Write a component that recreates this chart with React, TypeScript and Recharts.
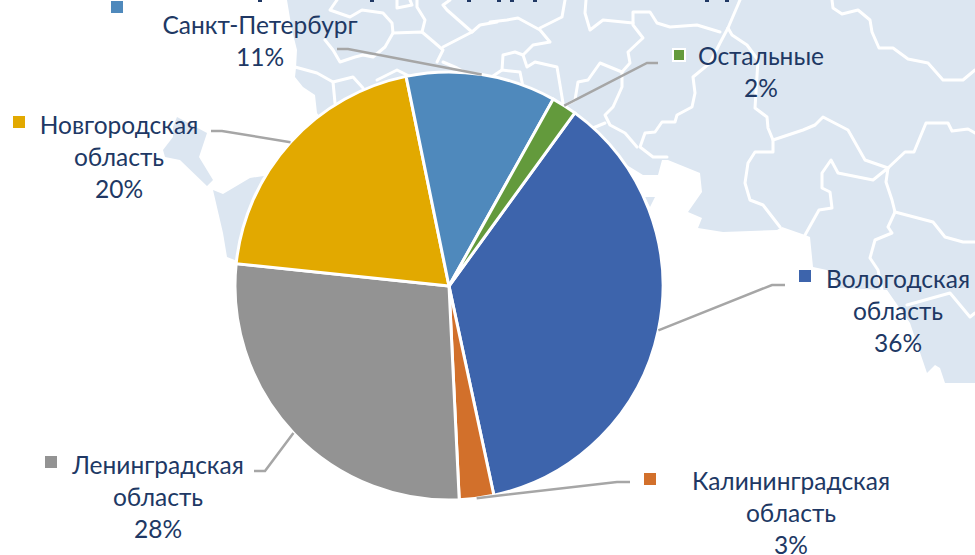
import React from "react";
import { PieChart, Pie, Cell } from "recharts";

// slice order goes clockwise from the top right, as in the reference
const CATEGORIES = [
  ["Вологодская", "область"],
  ["Калининградская", "область"],
  ["Ленинградская", "область"],
  ["Новгородская", "область"],
  ["Санкт-Петербург"],
  ["Остальные"],
];
const SHARES = [36.6, 2.6, 27.4, 20.1, 11.3, 1.9];
const PERCENT_LABELS = ["36%", "3%", "28%", "20%", "11%", "2%"];
const COLORS = ["#3D64AC", "#D2702B", "#939393", "#E2A900", "#4F89BC", "#639A3C"];

// label placement: text centre, first baseline, legend square, leader elbow
const LABEL_POS = [
  { x: 898, y: 288, sx: 799, sy: 270, ex: 772, ey: 285, end: 785 },
  { x: 791, y: 490, sx: 644, sy: 473, ex: 617, ey: 482, end: 630 },
  { x: 158, y: 474, sx: 45, sy: 456, ex: 265, ey: 471, end: 254 },
  { x: 119, y: 134, sx: 13, sy: 116, ex: 222, ey: 131, end: 211 },
  { x: 260, y: 34, sx: 111, sy: 1, ex: 348, ey: 49, end: 337 },
  { x: 761, y: 65, sx: 673, sy: 49, ex: 647, ey: 63, end: 658 },
];

const TEXT_COLOR = "#203864";
const LINE_HEIGHT = 32;
const RAD = Math.PI / 180;

// background map, drawn by hand behind the pie
const LAND = [
  "M287,0 L975,0 L975,383 L945,383 L940,368 L935,365 L927,373 L910,323 L887,290 L840,288 L827,270 L813,267 L810,237 L805,235 L782,227 L777,230 L723,232 L698,228 L702,218 L688,212 L702,192 L700,173 L668,160 L662,160 L658,175 L643,175 L630,167 L600,150 L449,286 L317,113 L315,95 L303,87 L295,77 L296,68 L297,50 L292,30 Z",
  "M163,150 L173,137 L173,127 L177,117 L207,133 L199,157 L213,180 L207,186 L180,160 L165,157 Z",
  "M213,190 L223,194 L250,178 L270,175 L280,200 L240,262 L227,257 L223,233 Z",
  "M645,197 L655,197 L650,207 Z",
];
const BORDERS = [
  "M740,0 L728,28 L720,43 L710,63 L693,77 L695,93 L692,107 L677,115 L675,122 L662,122 L655,132 L645,133 L640,147 L653,157 L667,157",
  "M728,28 L732,35 L747,45 L758,60 L755,108 L767,117 L768,128 L773,140 L773,152 L755,152 L748,163 L745,183 L750,200 L763,205 L780,227",
  "M773,140 L803,130 L815,125 L823,117 L848,130 L865,160 L888,168",
  "M720,32 L697,25 L670,27 L657,23 L650,12 L633,12 L633,25 L643,38 L628,52 L630,63 L622,72 L622,87 L613,107 L605,115 L610,125 L625,133 L637,147",
  "M633,23 L603,20 L590,30 L585,13 L586,0",
  "M622,72 L600,63 L588,80 L578,82 L575,100 L566,105",
  "M605,123 L593,128",
  "M490,22 L507,20 L518,18 L540,30 L550,42 L533,45 L523,55 L527,67 L535,62 L557,67 L563,103",
  "M523,55 L515,52 L503,55 L502,70 L520,72 L523,87",
  "M502,70 L490,78",
  "M540,28 L562,17 L565,0",
  "M832,0 L833,8 L842,14 L858,10 L870,20 L872,32 L879,48 L893,48 L908,59 L928,63 L943,80 L963,80 L975,70",
  "M888,168 L905,152 L914,152 L926,123 L948,123 L952,131 L968,129 L975,133",
  "M888,168 L873,180 L838,173 L831,160 L822,173 L822,188 L830,192 L832,208 L819,210 L805,235",
  "M888,168 L886,182 L892,200 L895,212",
  "M895,212 L933,222 L945,237 L963,242 L975,242",
  "M895,212 L888,227 L892,233 L875,240 L870,258 L878,270 L882,290",
  "M907,305 L950,293 L970,317 L975,313",
  "M337,0 L330,10 L350,17 L362,10 L383,13 L392,23 L393,33 L385,47 L373,57 L363,55 L355,57 L340,62 L333,50 L325,40",
  "M393,33 L422,32 L435,43 L443,50 L437,62",
  "M422,32 L425,20 L417,7 L417,0",
  "M443,47 L472,32 L447,10 L443,5 L450,0",
  "M472,32 L480,25 L497,22",
  "M443,62 L457,68 L470,75",
  "M377,80 L397,70 L413,78",
  "M295,67 L317,73 L333,82 L335,103",
  "M333,82 L353,77 L363,88",
  "M397,8 L412,5 L410,0 M397,8 L397,0",
];
// bottoms of the cropped title letters along the top edge
const TITLE_SCRAPS = [258, 370, 467, 497, 510, 533, 705, 725];

const chartData = CATEGORIES.map((lines, i) => ({
  name: lines.join(" "),
  value: SHARES[i],
}));

function MapBackground() {
  return (
    <svg width={975} height={555} style={{ position: "absolute", left: 0, top: 0 }}>
      {LAND.map((d, i) => (
        <path key={i} d={d} fill="#DCE6F1" />
      ))}
      {BORDERS.map((d, i) => (
        <path
          key={i}
          d={d}
          fill="none"
          stroke="#FFFFFF"
          strokeWidth={3}
          strokeLinejoin="round"
          strokeLinecap="round"
        />
      ))}
      {TITLE_SCRAPS.map((x) => (
        <rect key={x} x={x} y={0} width={4} height={2} fill={TEXT_COLOR} />
      ))}
    </svg>
  );
}

function renderLabel(props: any) {
  const { index } = props;
  const pos = LABEL_POS[index];
  const lines = [...CATEGORIES[index], PERCENT_LABELS[index]];
  return (
    <g key={index}>
      <rect
        x={pos.sx}
        y={pos.sy}
        width={12}
        height={12}
        fill={COLORS[index]}
        stroke={index === 5 ? "#FFFFFF" : "none"}
        strokeWidth={index === 5 ? 2 : 0}
      />
      <text
        textAnchor="middle"
        fill={TEXT_COLOR}
        fontFamily="Lato, 'Open Sans', sans-serif"
        fontSize={24.5}
      >
        {lines.map((line, j) => (
          <tspan key={j} x={pos.x} y={pos.y + j * LINE_HEIGHT}>
            {line}
          </tspan>
        ))}
      </text>
    </g>
  );
}

function renderLabelLine(props: any) {
  const { index, cx, cy, midAngle, outerRadius } = props;
  const pos = LABEL_POS[index];
  const px = cx + outerRadius * Math.cos(-midAngle * RAD);
  const py = cy + outerRadius * Math.sin(-midAngle * RAD);
  return (
    <polyline
      key={index}
      points={`${px},${py} ${pos.ex},${pos.ey} ${pos.end},${pos.ey}`}
      fill="none"
      stroke="#A6A6A6"
      strokeWidth={2.5}
    />
  );
}

export default function App() {
  return (
    <div style={{ position: "fixed", left: 0, top: 0, width: 975, height: 555, background: "#fff" }}>
      <MapBackground />
      <div style={{ position: "absolute", left: 0, top: 0 }}>
        <PieChart width={975} height={555} margin={{ top: 0, right: 0, bottom: 0, left: 0 }}>
          <Pie
            data={chartData}
            dataKey="value"
            nameKey="name"
            cx={449}
            cy={286}
            innerRadius={0}
            outerRadius={214}
            startAngle={54}
            endAngle={-306}
            stroke="#FFFFFF"
            strokeWidth={3}
            label={renderLabel}
            labelLine={renderLabelLine}
            isAnimationActive={false}
          >
            {chartData.map((_, i) => (
              <Cell key={i} fill={COLORS[i]} />
            ))}
          </Pie>
        </PieChart>
      </div>
    </div>
  );
}
